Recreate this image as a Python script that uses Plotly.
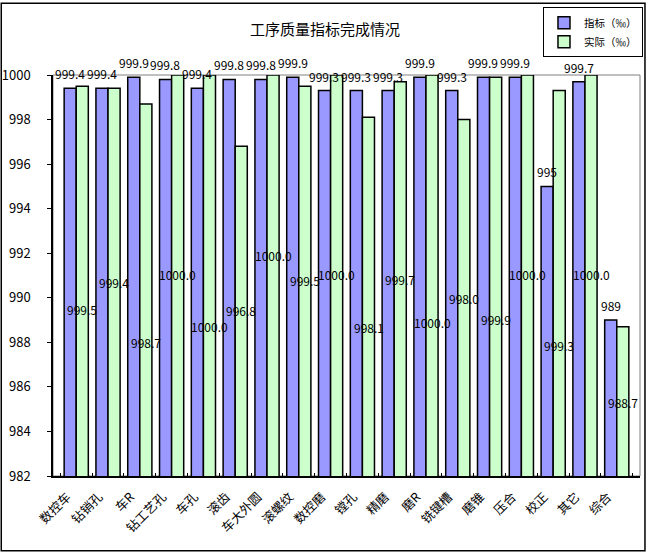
import plotly.graph_objects as go

categories = ["数控车", "钻销孔", "车R", "钻工艺孔", "车孔", "滚齿", "车大外圆", "滚螺纹",
              "数控磨", "镗孔", "精磨", "磨R", "铣键槽", "磨锥", "压合", "校正", "其它", "综合"]
target = [999.4, 999.4, 999.9, 999.8, 999.4, 999.8, 999.8, 999.9, 999.3,
          999.3, 999.3, 999.9, 999.3, 999.9, 999.9, 995, 999.7, 989]
actual = [999.5, 999.4, 998.7, 1000.0, 1000.0, 996.8, 1000.0, 999.5, 1000.0,
          998.1, 999.7, 1000.0, 998.0, 999.9, 1000.0, 999.3, 1000.0, 988.7]
# heights (axis units) at which the reference prints the "实际" labels
actual_label_pos = [989.47, 990.67, 987.99, 991.03, 988.71, 989.42, 991.92, 990.76, 991.03,
                    988.66, 990.81, 988.88, 989.96, 989.02, 991.03, 987.86, 991.03, 985.32]
y_ticks = [982, 984, 986, 988, 990, 992, 994, 996, 998, 1000]

FONT = "Noto Sans CJK SC"
W, H = 650, 553
ML, MR, MT, MB = 53, 7, 73, 77
PW = W - ML - MR
PH = H - MT - MB
BARGAP = 0.24

fig = go.Figure()
fig.add_trace(go.Bar(
    x=categories, y=target, name="指标（‰）",
    marker=dict(color="#9999FF", line=dict(color="black", width=1.5)),
))
fig.add_trace(go.Bar(
    x=categories, y=actual, name="实际（‰）",
    marker=dict(color="#CCFFCC", line=dict(color="black", width=1.5)),
))

bar_w = PW / len(categories) * (1 - BARGAP) / 2
for c, v in zip(categories, target):
    fig.add_annotation(x=c, y=v, text=f"{v:g}", showarrow=False, yanchor="bottom", yshift=4,
                       xshift=-bar_w / 2, font=dict(family=FONT, size=12, color="black"))
for c, v, p in zip(categories, actual, actual_label_pos):
    fig.add_annotation(x=c, y=p, text=f"{v:.1f}", showarrow=False,
                       xshift=bar_w / 2, font=dict(family=FONT, size=12, color="black"))

# plot area frame (grey top/right) and outer chart border
fig.add_shape(type="rect", xref="paper", yref="paper", x0=0, x1=1, y0=0, y1=1,
              line=dict(color="#808080", width=1), layer="below")
fig.add_shape(type="rect", xref="paper", yref="paper",
              x0=(1 - ML) / PW, x1=(W - 2 - ML) / PW,
              y0=(PH + MT - (H - 2)) / PH, y1=(PH + MT - 1) / PH,
              line=dict(color="black", width=1.5))

fig.update_layout(
    width=W, height=H,
    margin=dict(l=ML, r=MR, t=MT, b=MB),
    paper_bgcolor="white", plot_bgcolor="white",
    barmode="group", bargap=BARGAP, bargroupgap=0,
    font=dict(family=FONT, size=12, color="black"),
    title=dict(text="工序质量指标完成情况", x=0.5, xref="container", xanchor="center",
               y=1 - 30 / H, yref="container", yanchor="middle",
               font=dict(family=FONT, size=15, color="black")),
    legend=dict(x=(646 - ML) / PW, xanchor="right", y=(PH + MT - 5) / PH, yanchor="top",
                bgcolor="white", bordercolor="black", borderwidth=1,
                font=dict(family=FONT, size=10.5, color="black"),
                itemwidth=30, tracegroupgap=0),
    showlegend=True,
)
fig.update_xaxes(type="category", tickangle=-45, showline=True, linecolor="black", linewidth=1.5,
                 ticks="inside", tickson="boundaries", ticklen=3, tickcolor="black",
                 tickfont=dict(family=FONT, size=12.5, color="black"),
                 ticklabelstandoff=7, ticklabelshift=-9,
                 showgrid=False, automargin=False)
fig.update_yaxes(range=[982, 1000], tickvals=y_ticks, showline=True, linecolor="black", linewidth=1.5,
                 ticks="outside", ticklen=4, tickcolor="black", ticklabelstandoff=14,
                 tickfont=dict(family=FONT, size=13, color="black"),
                 showgrid=False, zeroline=False, automargin=False)

fig.write_html("out.html", config={"displayModeBar": False},
               post_script="document.body.style.margin='0';document.body.style.overflow='hidden';")
